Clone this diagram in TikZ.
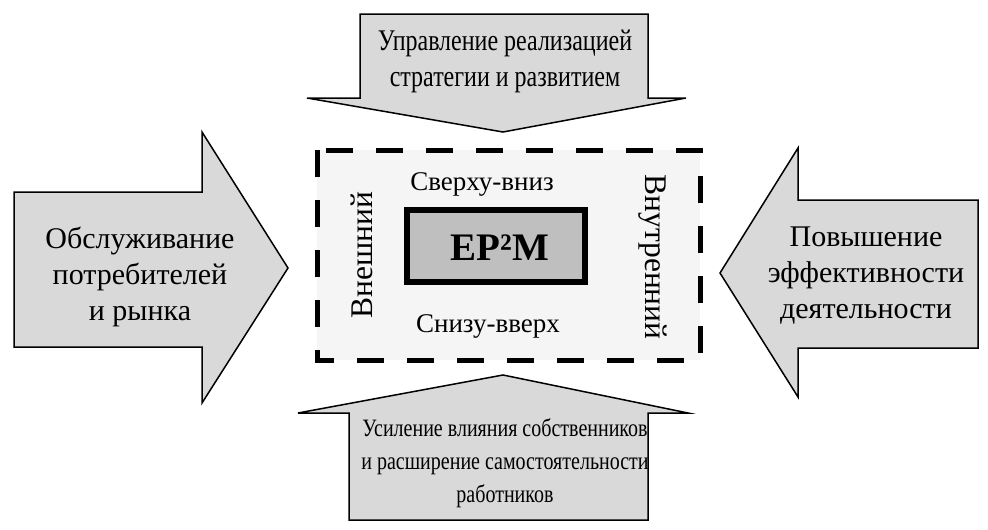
\documentclass[tikz,border=0pt]{standalone}
\usepackage{fontspec}
\setmainfont{Liberation Serif}
\newfontfamily\condfont{Liberation Serif}[FakeStretch=0.8]
\begin{document}
\begin{tikzpicture}[x=1pt,y=-1pt,
  arrowshape/.style={draw=black, line width=1.5pt, fill=gray!30, line join=miter},
  bigtext/.style={align=center, font=\fontsize{30}{36}\selectfont, inner sep=0pt},
  toptext/.style={align=center, font=\condfont\fontsize{30}{36}\selectfont, inner sep=0pt},
  bottext/.style={align=center, font=\condfont\fontsize{25}{33}\selectfont, inner sep=0pt},
  midtext/.style={font=\fontsize{27}{32}\selectfont, inner sep=0pt, anchor=base},
  sidetext/.style={font=\fontsize{31.5}{36}\selectfont, inner sep=0pt}]
\useasboundingbox (0,0) rectangle (988,530);
% arrows
\draw[arrowshape] (14,192) -- (202,192) -- (202,132) -- (288,268) -- (202,403) -- (202,347) -- (14,347) -- cycle;
\draw[arrowshape] (978,200) -- (798,200) -- (798,148) -- (720,273) -- (798,397) -- (798,348) -- (978,348) -- cycle;
\draw[arrowshape] (360,14) -- (648,14) -- (648,98) -- (686,98) -- (503,132) -- (307,98) -- (360,98) -- cycle;
\draw[arrowshape] (349,520) -- (648,520) -- (648,413) -- (688,413) -- (503,375) -- (298,413) -- (349,413) -- cycle;
% dashed frame
\draw[line width=5pt, dash pattern=on 27pt off 23pt, fill=gray!8] (317,150) rectangle (700,360);
% inner box
\node[draw=black, line width=6pt, fill=gray!50, minimum width=178pt, minimum height=72pt, inner sep=0pt] (core) at (496,246) {};
\node[font=\bfseries\fontsize{39}{44}\selectfont, inner sep=0pt, anchor=base] (ep) at (500,260) {EP²M};
% texts
\node[bigtext] (left) at (140,277) {Обслуживание\\потребителей\\и рынка};
\node[bigtext] (right) at (866,276) {Повышение\\эффективности\\деятельности};
\node[toptext] (top) at (505,61) {Управление реализацией\\стратегии и развитием};
\node[bottext] (bottom) at (505,463) {Усиление влияния собственников\\и расширение самостоятельности\\работников};
\node[midtext] (down) at (482,190) {Сверху-вниз};
\node[midtext] (up) at (488,332) {Снизу-вверх};
\node[sidetext, rotate=90] (ext) at (362,255) {Внешний};
\node[sidetext, rotate=-90] (int) at (653,257) {Внутренний};
\end{tikzpicture}
\end{document}
